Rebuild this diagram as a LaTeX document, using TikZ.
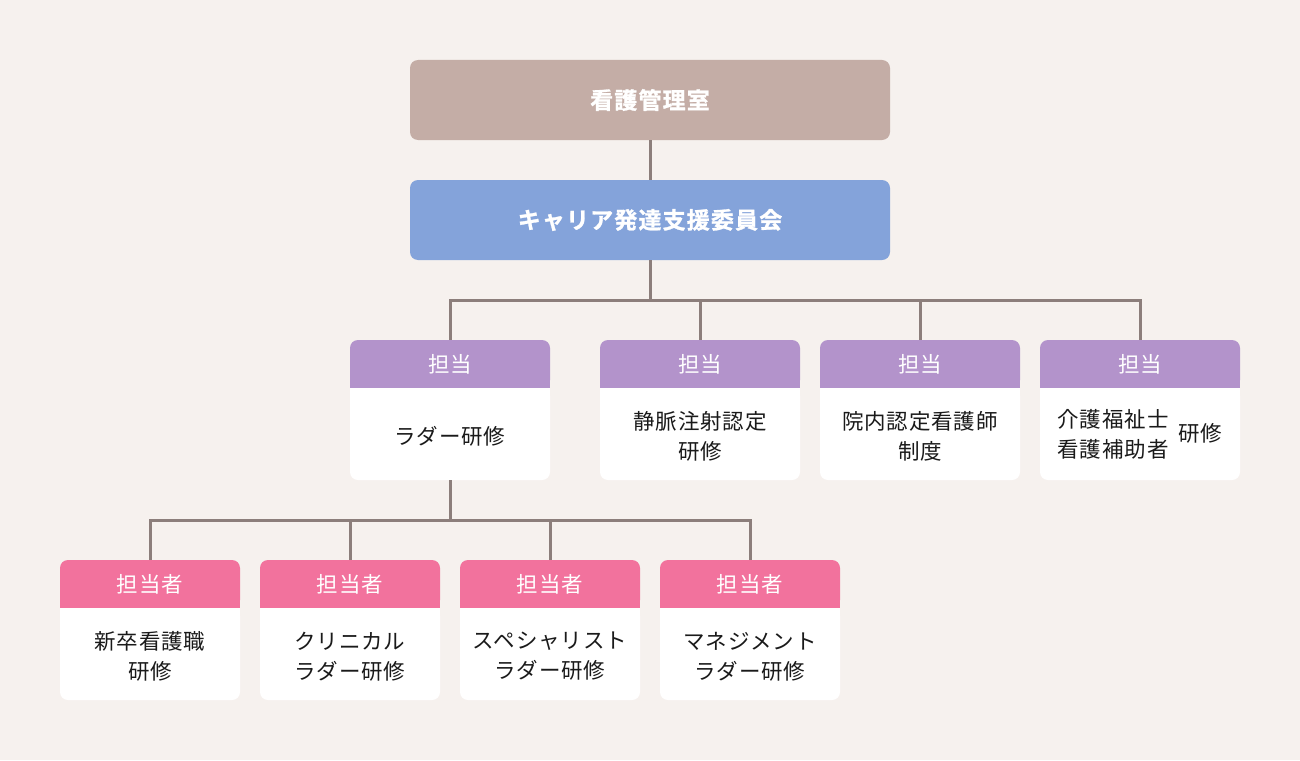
\documentclass[tikz,border=0pt]{standalone}
\usepackage{fontspec}
\setmainfont{Noto Sans CJK JP}[LetterSpace=4, BoldFont={Noto Sans CJK JP Bold}, BoldFeatures={FakeBold=1.2, LetterSpace=5}]
\definecolor{bgc}{HTML}{F6F1EE}
\definecolor{topc}{HTML}{C4ADA6}
\definecolor{bluec}{HTML}{84A3DA}
\definecolor{purc}{HTML}{B393CB}
\definecolor{pinkc}{HTML}{F2729D}
\definecolor{linec}{HTML}{8C7E7B}
\definecolor{txtc}{HTML}{1A1A1A}
\newcommand{\dl}[1]{\raisebox{-2.5pt}[\height][\depth]{#1}}
\tikzset{
  bigbox/.style={rounded corners=8pt, minimum width=480pt, minimum height=80pt, inner sep=0pt, text=white, font=\bfseries\fontsize{23}{30}\selectfont},
  hdrmid/.style={fill=purc, rounded corners=8pt, minimum width=200pt, minimum height=48pt, inner sep=0pt, text=white, font=\fontsize{21.5}{30}\selectfont},
  bodymid/.style={fill=white, rounded corners=8pt, minimum width=200pt, minimum height=92pt, inner sep=0pt, text=txtc, align=center, font=\fontsize{21.5}{30}\selectfont},
  hdrbot/.style={fill=pinkc, rounded corners=8pt, minimum width=180pt, minimum height=48pt, inner sep=0pt, text=white, font=\fontsize{21.5}{30}\selectfont},
  bodybot/.style={fill=white, rounded corners=8pt, minimum width=180pt, minimum height=92pt, inner sep=0pt, text=txtc, align=center, font=\fontsize{21.5}{30}\selectfont},
  conn/.style={draw=linec, line width=3pt},
}
\newcommand{\squarehdr}[2]{%
  \fill[#2] (#1.south west) rectangle ([yshift=12pt]#1.south east);}
\newcommand{\squarebody}[1]{%
  \fill[white] (#1.north west) rectangle ([yshift=-12pt]#1.north east);}
\begin{document}
\begin{tikzpicture}[x=1pt,y=-1pt]
\fill[bgc] (0,0) rectangle (1300,760);
\useasboundingbox (0,0) rectangle (1300,760);

\node[bigbox, fill=topc] (top) at (650,100) {看護管理室};
\node[bigbox, fill=bluec] (comm) at (650,220) {キャリア発達支援委員会};

% middle row
\foreach \i/\x in {1/450,2/700,3/920,4/1140}{
  \node[hdrmid] (h\i) at (\x,364) {担当};
}
\node[bodymid] (b1) at (450,434) {\dl{ラダー研修}};
\node[bodymid] (b2) at (700,434) {\dl{静脈注射認定}\\\dl{研修}};
\node[bodymid] (b3) at (920,434) {\dl{院内認定看護師}\\\dl{制度}};
\node[bodymid] (b4) at (1140,434) {\dl{\begin{tabular}{@{}c@{}}介護福祉士\\看護補助者\end{tabular}\hspace{10pt}研修}};
\foreach \i in {1,2,3,4}{ \squarehdr{h\i}{purc} \squarebody{b\i} }

% bottom row
\foreach \i/\x in {1/150,2/350,3/550,4/750}{
  \node[hdrbot] (g\i) at (\x,584) {担当者};
}
\node[bodybot] (c1) at (150,654) {\dl{新卒看護職}\\\dl{研修}};
\node[bodybot] (c2) at (350,654) {\dl{クリニカル}\\\dl{ラダー研修}};
\node[bodybot] (c3) at (550,654) {\dl{スペシャリスト}\\\dl{ラダー研修}};
\node[bodybot] (c4) at (750,654) {\dl{マネジメント}\\\dl{ラダー研修}};
\foreach \i in {1,2,3,4}{ \squarehdr{g\i}{pinkc} \squarebody{c\i} }

% connectors
\draw[conn] (top.south) -- (comm.north);
\coordinate (bus1) at ([yshift=-40pt]comm.south);
\draw[conn] (comm.south) -- (bus1);
\draw[conn] (h1.north) |- (bus1) -| (h4.north);
\draw[conn] (h2.north) |- (bus1);
\draw[conn] (h3.north) |- (bus1);
\coordinate (bus2) at ([yshift=-40pt]b1.south);
\draw[conn] (b1.south) -- (bus2);
\draw[conn] (g1.north) |- (bus2) -| (g4.north);
\draw[conn] (g2.north) |- (bus2);
\draw[conn] (g3.north) |- (bus2);
\end{tikzpicture}
\end{document}
